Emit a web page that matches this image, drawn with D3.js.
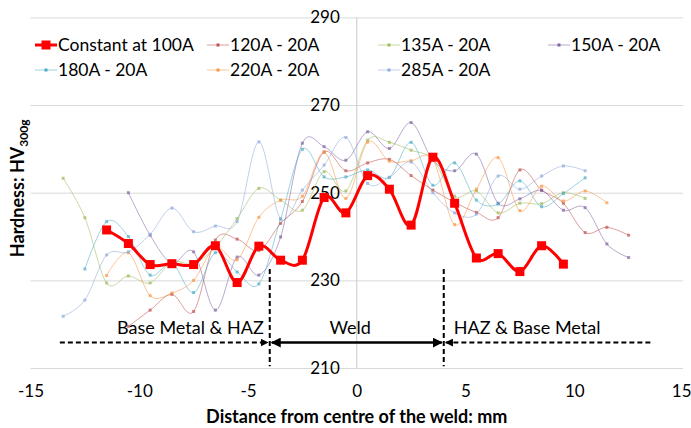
<!DOCTYPE html>
<html lang="en">
<head>
  <meta charset="UTF-8">
  <title>Hardness profile across the weld</title>
  <style>
    body { margin: 0; background: #fff; }
    svg { display: block; }
    text { font-family: Lato, "Open Sans", sans-serif; fill: #000; }
    .tick text { font-size: 17px; }
    .grid line { stroke: #d9d9d9; }
    .legend text { font-size: 17.5px; }
    .axis-title { font-weight: bold; font-size: 18px; }
    .zone { font-size: 18px; }
  </style>
</head>
<body>
  <svg width="691" height="428"></svg>

  <script src="https://d3js.org/d3.v7.min.js"></script>
  <script>
    // series data: distance (mm) and hardness HV300g
    var distRed = [-11.5,-10.5,-9.5,-8.5,-7.5,-6.5,-5.5,-4.5,-3.5,-2.5,-1.5,-0.5,0.5,1.5,2.5,3.5,4.5,5.5,6.5,7.5,8.5,9.5];
    var hvConst100 = [241.5,238.4,233.6,233.8,233.6,237.9,229.5,237.8,234.6,234.6,248.9,245.4,253.9,250.8,242.6,258.1,247.6,235.1,236.1,232.0,237.9,233.7];

    var dist120 = [-10.5,-9.5,-8.5,-7.5,-6.5,-5.5,-4.5,-3.5,-2.5,-1.5,-0.5,0.5,1.5,2.5,3.5,4.5,5.5,6.5,7.5,8.5,9.5,10.5,11.5,12.5];
    var hv120 = [219.5,223.2,226.8,222.9,239.2,239.4,236.8,243.0,248.0,259.3,255.0,256.8,257.6,253.9,250.6,247.8,245.5,244.3,255.2,250.6,247.6,240.9,242.1,240.3];

    var dist135 = [-13.5,-12.5,-11.5,-10.5,-9.5,-8.5,-7.5,-6.5,-5.5,-4.5,-3.5,-2.5,-1.5,-0.5,0.5,1.5,2.5,3.5,4.5,5.5,6.5,7.5,8.5,9.5,10.5];
    var hv135 = [253.3,244.3,229.4,231.0,229.4,234.2,233.8,237.6,244.1,251.0,248.3,246.0,254.8,250.4,262.0,261.5,259.7,257.6,249.2,250.4,245.4,247.6,247.5,250.0,248.7];

    var dist150 = [-10.5,-9.5,-8.5,-7.5,-6.5,-5.5,-4.5,-3.5,-2.5,-1.5,-0.5,0.5,1.5,2.5,3.5,4.5,5.5,6.5,7.5,8.5,9.5,10.5,11.5,12.5];
    var hv150 = [250.0,240.3,233.9,236.5,223.2,235.3,231.2,239.9,261.3,260.5,257.4,263.9,260.1,266.0,257.4,255.0,258.8,247.6,248.6,250.5,246.0,246.6,238.3,235.2];

    var dist180 = [-12.5,-11.5,-10.5,-9.5,-8.5,-7.5,-6.5,-5.5,-4.5,-3.5,-2.5,-1.5,-0.5,0.5,1.5,2.5,3.5,4.5,5.5,6.5,7.5,8.5,9.5,10.5];
    var hv180 = [232.6,243.4,240.0,231.2,233.9,227.2,236.3,231.9,229.2,244.0,259.9,253.6,253.6,255.2,253.5,261.5,251.7,256.8,248.3,247.4,252.7,246.8,249.8,253.4];

    var dist220 = [-11.5,-10.5,-9.5,-8.5,-7.5,-6.5,-5.5,-4.5,-3.5,-2.5,-1.5,-0.5,0.5,1.5,2.5,3.5,4.5,5.5,6.5,7.5,8.5,9.5,10.5,11.5];
    var hv220 = [231.1,236.3,226.5,227.1,230.0,237.6,234.7,244.4,248.3,249.2,259.2,248.7,261.5,257.2,257.3,257.6,242.7,250.8,258.0,245.9,251.5,248.1,250.4,247.7];

    var dist285 = [-13.5,-12.5,-11.5,-10.5,-9.5,-8.5,-7.5,-6.5,-5.5,-4.5,-3.5,-2.5,-1.5,-0.5,0.5,1.5,2.5,3.5,4.5,5.5,6.5,7.5,8.5,9.5,10.5];
    var hv285 = [221.8,225.5,235.8,236.5,240.5,246.5,241.1,242.4,243.4,261.6,244.0,250.6,256.3,262.6,252.1,253.5,257.0,250.0,245.4,245.1,253.8,250.8,253.8,256.1,255.0];

    var seriesNames = ["Constant at 100A","120A - 20A","135A - 20A","150A - 20A","180A - 20A","220A - 20A","285A - 20A"];
    var seriesColors = ["#ff0000","#c0504d","#9bbb59","#8064a2","#4bacc6","#f79646","#8ea9db"];

    var xTicks = [-15,-10,-5,0,5,10,15];
    var yTicks = [210,230,250,270,290];

    var zoneLabels = ["Base Metal & HAZ","Weld","HAZ & Base Metal"];
    var zoneEdges = [-4, 4];

    var series = [
      {name: seriesNames[0], xs: distRed, ys: hvConst100},
      {name: seriesNames[1], xs: dist120, ys: hv120},
      {name: seriesNames[2], xs: dist135, ys: hv135},
      {name: seriesNames[3], xs: dist150, ys: hv150},
      {name: seriesNames[4], xs: dist180, ys: hv180},
      {name: seriesNames[5], xs: dist220, ys: hv220},
      {name: seriesNames[6], xs: dist285, ys: hv285}
    ];
    series.forEach(function(s, i) {
      s.color = seriesColors[i];
      s.points = s.xs.map(function(x, j) { return {x: x, y: s.ys[j]}; });
    });

    var svg = d3.select("svg");

    var x = d3.scaleLinear().domain([-15, 15]).range([30.5, 683]);
    var y = d3.scaleLinear().domain([210, 290]).range([368, 17.4]);

    // horizontal gridlines
    svg.append("g")
        .attr("class", "grid")
        .attr("transform", "translate(" + x(-15) + ",0)")
        .call(d3.axisLeft(y).tickValues(yTicks).tickSize(-(x(15) - x(-15))).tickFormat(""))
        .call(function(g) { g.select(".domain").remove(); });

    // vertical axis line at 0
    svg.append("line")
        .attr("x1", x(0)).attr("x2", x(0))
        .attr("y1", y(290)).attr("y2", y(210))
        .attr("stroke", "#c8c8c8");

    // y tick labels, next to the zero line
    svg.append("g")
        .attr("transform", "translate(" + x(0) + ",0)")
        .call(d3.axisLeft(y).tickValues(yTicks).tickSize(0).tickPadding(17))
        .call(function(g) { g.select(".domain").remove(); });

    // x tick labels (plain hyphen, like the original)
    svg.append("g")
        .attr("transform", "translate(0," + y(210) + ")")
        .call(d3.axisBottom(x).tickValues(xTicks).tickSize(0).tickPadding(17)
          .tickFormat(function(d) { return String(d); }))
        .call(function(g) {
          g.select(".domain").remove();
          // last label sits against the right edge
          g.selectAll(".tick text").filter(function(d) { return d === 15; })
              .attr("text-anchor", "end").attr("x", 8);
        });

    // zone markers
    var defs = svg.append("defs");
    defs.append("marker")
        .attr("id", "arrow")
        .attr("viewBox", "0 0 10 10")
        .attr("refX", 9).attr("refY", 5)
        .attr("markerWidth", 4).attr("markerHeight", 4)
        .attr("orient", "auto-start-reverse")
      .append("path")
        .attr("d", "M0,0L10,5L0,10z")
        .attr("fill", "#000");

    var zone = svg.append("g");
    zoneEdges.forEach(function(e) {
      zone.append("line")
          .attr("x1", x(e)).attr("x2", x(e))
          .attr("y1", y(232.6)).attr("y2", y(210.4))
          .attr("stroke", "#000").attr("stroke-width", 2)
          .attr("stroke-dasharray", "5,3");
    });
    var arrowY = y(215.8);
    zone.append("line")
        .attr("x1", x(-13.65)).attr("x2", x(-4) - 2)
        .attr("y1", arrowY).attr("y2", arrowY)
        .attr("stroke", "#000").attr("stroke-width", 2)
        .attr("stroke-dasharray", "5,3")
        .attr("marker-end", "url(#arrow)");
    zone.append("line")
        .attr("x1", x(-4) + 2).attr("x2", x(4) - 2)
        .attr("y1", arrowY).attr("y2", arrowY)
        .attr("stroke", "#000").attr("stroke-width", 2.5)
        .attr("marker-start", "url(#arrow)")
        .attr("marker-end", "url(#arrow)");
    zone.append("line")
        .attr("x1", x(13.5)).attr("x2", x(4) + 2)
        .attr("y1", arrowY).attr("y2", arrowY)
        .attr("stroke", "#000").attr("stroke-width", 2)
        .attr("stroke-dasharray", "5,3")
        .attr("marker-end", "url(#arrow)");

    var labelY = y(215.8) - 9;
    zone.append("text").attr("class", "zone")
        .attr("x", x(-4) - 6).attr("y", labelY)
        .attr("text-anchor", "end").text(zoneLabels[0]);
    zone.append("text").attr("class", "zone")
        .attr("x", x(-0.3)).attr("y", labelY)
        .attr("text-anchor", "middle").text(zoneLabels[1]);
    zone.append("text").attr("class", "zone")
        .attr("x", x(4) + 10).attr("y", labelY)
        .attr("text-anchor", "start").text(zoneLabels[2]);

    // lines
    var line = d3.line()
        .x(function(d) { return x(d.x); })
        .y(function(d) { return y(d.y); })
        .curve(d3.curveCardinal.tension(0));

    var thin = series.slice(1);
    var plot = svg.append("g");

    plot.selectAll("path.thin")
        .data(thin)
        .enter().append("path")
        .attr("class", "thin")
        .attr("d", function(d) { return line(d.points); })
        .attr("fill", "none")
        .attr("stroke", function(d) { return d.color; })
        .attr("stroke-opacity", 0.55)
        .attr("stroke-width", 1);

    thin.forEach(function(s) {
      plot.append("g").selectAll("rect")
          .data(s.points)
          .enter().append("rect")
          .attr("x", function(d) { return x(d.x) - 1.5; })
          .attr("y", function(d) { return y(d.y) - 1.5; })
          .attr("width", 3).attr("height", 3)
          .attr("fill", s.color)
          .attr("fill-opacity", 0.7);
    });

    var red = series[0];
    plot.append("path")
        .attr("d", line(red.points))
        .attr("fill", "none")
        .attr("stroke", red.color)
        .attr("stroke-width", 3);
    plot.append("g").selectAll("rect")
        .data(red.points)
        .enter().append("rect")
        .attr("x", function(d) { return x(d.x) - 4.5; })
        .attr("y", function(d) { return y(d.y) - 4.5; })
        .attr("width", 9).attr("height", 9)
        .attr("fill", red.color);

    // legend
    var legendPos = [[35,45],[207,45],[378,45],[548,45],[35,70],[207,70],[378,70]];
    var legend = svg.append("g").attr("class", "legend");
    series.forEach(function(s, i) {
      var p = legendPos[i];
      var g = legend.append("g").attr("transform", "translate(" + p[0] + "," + p[1] + ")");
      g.append("line")
          .attr("x1", 0).attr("x2", 22)
          .attr("stroke", s.color)
          .attr("stroke-width", i === 0 ? 3 : 1)
          .attr("stroke-opacity", i === 0 ? 1 : 0.55);
      var m = i === 0 ? 9 : 3;
      g.append("rect")
          .attr("x", 11 - m / 2).attr("y", -m / 2)
          .attr("width", m).attr("height", m)
          .attr("fill", s.color);
      g.append("text")
          .attr("x", 23).attr("dy", "0.35em")
          .text(s.name);
    });

    // axis titles
    svg.append("text")
        .attr("class", "axis-title")
        .attr("x", x(0)).attr("y", 423)
        .attr("text-anchor", "middle")
        .text("Distance from centre of the weld: mm");

    var yt = svg.append("text")
        .attr("class", "axis-title")
        .attr("transform", "translate(24," + y(251) + ") rotate(-90)")
        .attr("text-anchor", "middle");
    yt.append("tspan").text("Hardness: HV");
    yt.append("tspan").attr("dy", 4).attr("font-size", "12px").text("300g");
  </script>
</body>
</html>
